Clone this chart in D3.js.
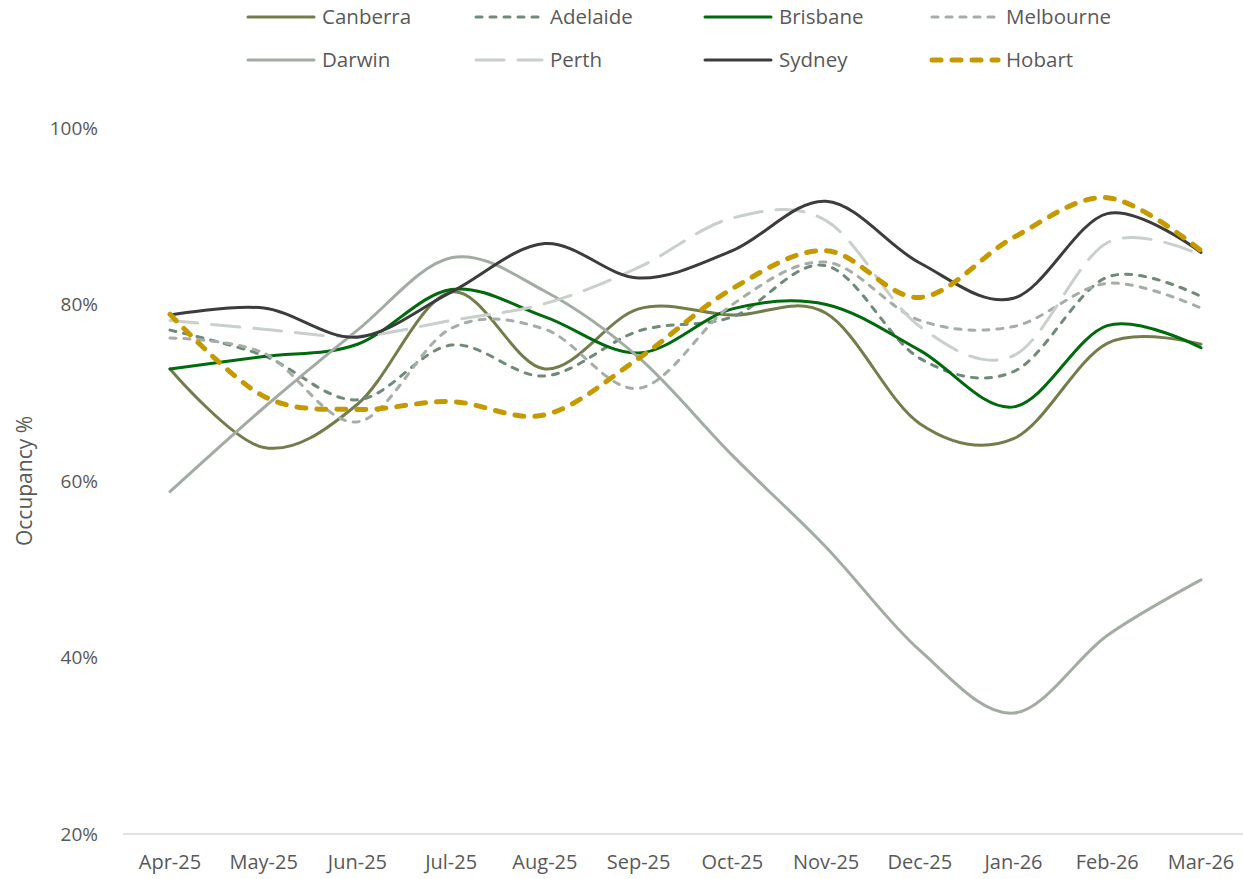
<!DOCTYPE html>
<html>
<head>
<meta charset="utf-8">
<script src="https://cdn.jsdelivr.net/npm/d3@7"></script>
<style>
  body { margin: 0; background: #fff; }
  svg { display: block; font-family: "Open Sans", sans-serif; }
</style>
</head>
<body>
<svg id="chart" width="1243" height="879"></svg>
<script>
var months = ['Apr-25','May-25','Jun-25','Jul-25','Aug-25','Sep-25','Oct-25','Nov-25','Dec-25','Jan-26','Feb-26','Mar-26'];

var canberra  = [72.7, 63.8, 68.7, 81.4, 72.7, 79.5, 78.8, 79.0, 66.5, 64.8, 75.6, 75.5];
var adelaide  = [77.1, 74.2, 69.2, 75.4, 71.9, 77.0, 78.6, 84.4, 73.9, 72.4, 83.1, 80.9];
var brisbane  = [72.7, 74.1, 75.5, 81.7, 78.6, 74.5, 79.5, 80.0, 74.8, 68.4, 77.6, 75.1];
var melbourne = [76.2, 74.5, 66.7, 77.3, 77.2, 70.5, 80.0, 84.8, 78.2, 77.5, 82.4, 79.6];
var darwin    = [58.8, 68.3, 77.1, 85.3, 81.5, 74.0, 62.9, 52.5, 40.8, 33.7, 42.5, 48.8];
var perth     = [78.2, 77.2, 76.4, 78.2, 80.1, 84.2, 89.8, 89.5, 77.5, 74.2, 87.0, 85.6];
var sydney    = [78.8, 79.6, 76.3, 81.4, 86.9, 83.0, 86.1, 91.7, 84.7, 80.7, 90.3, 85.9];
var hobart    = [78.9, 69.6, 68.1, 69.0, 67.5, 73.9, 81.8, 86.1, 80.8, 87.6, 92.1, 86.1];

var yTicks = [20, 40, 60, 80, 100];

var series = [
  {name: 'Canberra',  values: canberra,  color: '#737d4b', width: 3, dash: null,    cap: 'round'},
  {name: 'Adelaide',  values: adelaide,  color: '#708a79', width: 3, dash: '6,8',   cap: 'round'},
  {name: 'Brisbane',  values: brisbane,  color: '#006a0c', width: 3, dash: null,    cap: 'round'},
  {name: 'Melbourne', values: melbourne, color: '#a4ada7', width: 3, dash: '6,8',   cap: 'round'},
  {name: 'Darwin',    values: darwin,    color: '#a2aca3', width: 3, dash: null,    cap: 'round'},
  {name: 'Perth',     values: perth,     color: '#c9cfca', width: 3, dash: '28,14', cap: 'round'},
  {name: 'Sydney',    values: sydney,    color: '#3d3c3c', width: 3, dash: null,    cap: 'round'},
  {name: 'Hobart',    values: hobart,    color: '#c59900', width: 5, dash: '9,11',  cap: 'round'}
];

var svg = d3.select('#chart');
var textColor = '#595959';

var x = d3.scalePoint()
  .domain(months)
  .range([170, 1201]);

var y = d3.scaleLinear()
  .domain([20, 100])
  .range([834, 128]);

// x axis line
svg.append('line')
  .attr('x1', 123).attr('x2', 1243)
  .attr('y1', y(20)).attr('y2', y(20))
  .attr('stroke', '#d9d9d9')
  .attr('stroke-width', 1.5);

// y tick labels
svg.selectAll('.ytick')
  .data(yTicks)
  .enter()
  .append('text')
  .attr('class', 'ytick')
  .attr('x', 98)
  .attr('y', d => y(d))
  .attr('dy', '0.35em')
  .attr('text-anchor', 'end')
  .attr('font-size', 19)
  .attr('fill', textColor)
  .text(d => d + '%');

// x tick labels
svg.selectAll('.xtick')
  .data(months)
  .enter()
  .append('text')
  .attr('class', 'xtick')
  .attr('x', d => x(d))
  .attr('y', 862)
  .attr('dy', '0.35em')
  .attr('text-anchor', 'middle')
  .attr('font-size', 20)
  .attr('fill', textColor)
  .text(d => d);

// y axis title
svg.append('text')
  .attr('transform', 'translate(25,481) rotate(-90)')
  .attr('text-anchor', 'middle')
  .attr('dy', '0.35em')
  .attr('font-size', 21)
  .attr('fill', textColor)
  .text('Occupancy %');

var line = d3.line()
  .x((d, i) => x(months[i]))
  .y(d => y(d))
  .curve(d3.curveCardinal.tension(0));

svg.selectAll('.series')
  .data(series)
  .enter()
  .append('path')
  .attr('class', 'series')
  .attr('d', s => line(s.values))
  .attr('fill', 'none')
  .attr('stroke', s => s.color)
  .attr('stroke-width', s => s.width)
  .attr('stroke-dasharray', s => s.dash)
  .attr('stroke-linecap', s => s.cap)
  .attr('stroke-linejoin', 'round');

// legend
var legendCols = [246, 474, 703, 930];
var legendRows = [17, 60];

var legend = svg.selectAll('.legend')
  .data(series)
  .enter()
  .append('g')
  .attr('class', 'legend')
  .attr('transform', (s, i) => 'translate(' + legendCols[i % 4] + ',' + legendRows[Math.floor(i / 4)] + ')');

legend.append('line')
  .attr('x1', 2).attr('x2', 68)
  .attr('y1', 0).attr('y2', 0)
  .attr('stroke', s => s.color)
  .attr('stroke-width', s => s.width)
  .attr('stroke-linecap', s => s.cap)
  .attr('stroke-dasharray', s => s.dash);

legend.append('text')
  .attr('x', 76)
  .attr('y', 0)
  .attr('dy', '0.35em')
  .attr('font-size', 20.5)
  .attr('fill', textColor)
  .text(s => s.name);
</script>
</body>
</html>
